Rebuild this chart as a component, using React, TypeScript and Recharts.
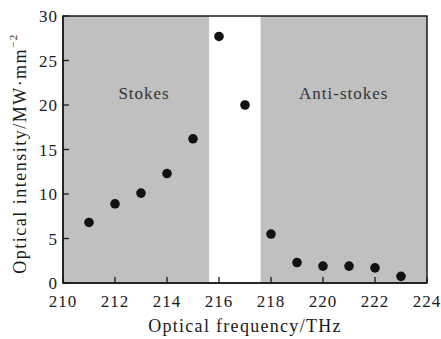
import React from 'react'
import {
  ComposedChart,
  Scatter,
  XAxis,
  YAxis,
  ReferenceArea,
  Label,
} from 'recharts'

// Optical frequency (THz) and measured intensity (MW/mm^2)
const frequencies = [211, 212, 213, 214, 215, 216, 217, 218, 219, 220, 221, 222, 223]
const intensities = [6.8, 8.9, 10.1, 12.3, 16.2, 27.7, 20.0, 5.5, 2.3, 1.9, 1.9, 1.7, 0.75]

const xTicks = [210, 212, 214, 216, 218, 220, 222, 224]
const yTicks = [0, 5, 10, 15, 20, 25, 30]

// shaded bands
const stokesBand = [210, 215.62]
const antiStokesBand = [217.6, 224]

const data = frequencies.map((f, i) => ({ freq: f, val: intensities[i] }))

const FONT = '"Liberation Serif", "Times New Roman", serif'
const INK = '#1a1a1a'

const XTick = (props: any) => {
  const { x, y, payload } = props
  return (
    <g>
      <line x1={x} x2={x} y1={y - 12} y2={y - 18} stroke={INK} strokeWidth={1.3} />
      <text
        x={x}
        y={y}
        dy="0.71em"
        textAnchor="middle"
        fontFamily={FONT}
        fontSize={17}
        letterSpacing={1}
        fill={INK}
      >
        {payload.value}
      </text>
    </g>
  )
}

const YTick = (props: any) => {
  const { x, y, payload } = props
  return (
    <g>
      <line x1={x + 5} x2={x + 11} y1={y} y2={y} stroke={INK} strokeWidth={1.3} />
      <text
        x={x}
        y={y}
        dy="0.355em"
        textAnchor="end"
        fontFamily={FONT}
        fontSize={17}
        letterSpacing={1}
        fill={INK}
      >
        {payload.value}
      </text>
    </g>
  )
}

const Dot = (props: any) => <circle cx={props.cx} cy={props.cy} r={4.8} fill="#111" />

const YTitle = (props: any) => {
  const { viewBox } = props
  const cx = 20
  const cy = viewBox.y + viewBox.height / 2 + 4
  return (
    <text
      x={cx}
      y={cy}
      transform={`rotate(-90, ${cx}, ${cy})`}
      textAnchor="middle"
      dominantBaseline="central"
      fontFamily={FONT}
      fontSize={18}
      letterSpacing={1.5}
      fill={INK}
    >
      Optical intensity/MW·mm<tspan dy={-7} fontSize={11}>−2</tspan>
    </text>
  )
}

export default function App() {
  return (
    <div style={{ position: 'absolute', left: 0, top: 0, background: '#fff' }}>
      <ComposedChart
        width={441}
        height={339}
        data={data}
        margin={{ top: 16, right: 14, bottom: 0, left: 0 }}
      >
        <ReferenceArea
          x1={stokesBand[0]}
          x2={stokesBand[1]}
          y1={0}
          y2={30}
          fill="#c0c0c0"
          fillOpacity={1}
          stroke="none"
          ifOverflow="visible"
        >
          <Label
            value="Stokes"
            position="insideTop"
            offset={71}
            dx={8}
            style={{ fontFamily: FONT, fontSize: 17, letterSpacing: 1, fill: '#333' }}
          />
        </ReferenceArea>
        <ReferenceArea
          x1={antiStokesBand[0]}
          x2={antiStokesBand[1]}
          y1={0}
          y2={30}
          fill="#c0c0c0"
          fillOpacity={1}
          stroke="none"
          ifOverflow="visible"
        >
          <Label
            value="Anti-stokes"
            position="insideTop"
            offset={71}
            style={{ fontFamily: FONT, fontSize: 17, letterSpacing: 1, fill: '#333' }}
          />
        </ReferenceArea>
        <ReferenceArea
          x1={210}
          x2={224}
          y1={0}
          y2={30}
          fill="none"
          stroke={INK}
          strokeWidth={1.5}
          ifOverflow="visible"
        />
        <XAxis
          dataKey="freq"
          type="number"
          domain={[210, 224]}
          ticks={xTicks}
          interval={0}
          tickSize={0}
          tickMargin={12}
          tick={<XTick />}
          axisLine={{ stroke: INK, strokeWidth: 1.5 }}
          height={56}
        >
          <Label
            value="Optical frequency/THz"
            position="insideBottom"
            offset={7}
            style={{ fontFamily: FONT, fontSize: 18, letterSpacing: 1.3, fill: INK }}
          />
        </XAxis>
        <YAxis
          dataKey="val"
          type="number"
          domain={[0, 30]}
          ticks={yTicks}
          interval={0}
          tickSize={0}
          tickMargin={5}
          tick={<YTick />}
          axisLine={{ stroke: INK, strokeWidth: 1.5 }}
          width={63}
        >
          <Label content={<YTitle />} />
        </YAxis>
        <Scatter dataKey="val" shape={<Dot />} isAnimationActive={false} />
      </ComposedChart>
    </div>
  )
}
